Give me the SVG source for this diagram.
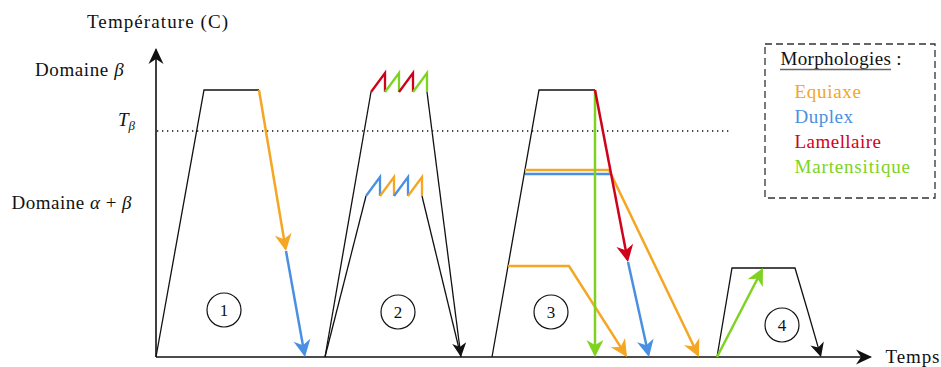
<svg xmlns="http://www.w3.org/2000/svg" width="941" height="367" viewBox="0 0 941 367">
<defs>
<marker id="hK" markerUnits="userSpaceOnUse" markerWidth="20" markerHeight="20" viewBox="-18 -10 20 20" refX="-1.5" refY="0" orient="auto"><path d="M0,0 L-14,-7 L-10,0 L-14,7 Z" fill="#111"/></marker>
<marker id="hA" markerUnits="userSpaceOnUse" markerWidth="22" markerHeight="22" viewBox="-20 -11 22 22" refX="-1.5" refY="0" orient="auto"><path d="M0,0 L-16,-7.5 L-11,0 L-16,7.5 Z" fill="#111"/></marker>
<marker id="hO" markerUnits="userSpaceOnUse" markerWidth="22" markerHeight="22" viewBox="-20 -11 22 22" refX="-2.5" refY="0" orient="auto"><path d="M0,0 L-17,-8.5 L-12,0 L-17,8.5 Z" fill="#F5A623"/></marker>
<marker id="hB" markerUnits="userSpaceOnUse" markerWidth="22" markerHeight="22" viewBox="-20 -11 22 22" refX="-2.5" refY="0" orient="auto"><path d="M0,0 L-17,-8.5 L-12,0 L-17,8.5 Z" fill="#4A90E2"/></marker>
<marker id="hR" markerUnits="userSpaceOnUse" markerWidth="22" markerHeight="22" viewBox="-20 -11 22 22" refX="-2.5" refY="0" orient="auto"><path d="M0,0 L-17,-8.5 L-12,0 L-17,8.5 Z" fill="#D0021B"/></marker>
<marker id="hG" markerUnits="userSpaceOnUse" markerWidth="22" markerHeight="22" viewBox="-20 -11 22 22" refX="-2.5" refY="0" orient="auto"><path d="M0,0 L-17,-8.5 L-12,0 L-17,8.5 Z" fill="#7ED321"/></marker>
</defs>

<g font-family="Liberation Serif" font-size="19" fill="#111">
<g id="axes">
<g fill="none" stroke="#111" stroke-width="1.6">
<line x1="156" y1="357" x2="156" y2="49.5" marker-end="url(#hA)"/>
<line x1="156" y1="357" x2="870.5" y2="357" marker-end="url(#hA)"/>
</g>
<line x1="157" y1="131" x2="732" y2="131" stroke="#111" stroke-width="1.3" stroke-dasharray="1.3 3.7"/>
<text x="87" y="28" textLength="141" lengthAdjust="spacing">Température (C)</text>
<text x="885.5" y="363" textLength="54" lengthAdjust="spacing">Temps</text>
<text x="35" y="76" letter-spacing="0.6">Domaine <tspan font-style="italic">β</tspan></text>
<text x="118" y="126" font-style="italic">T<tspan font-size="13" dy="4">β</tspan></text>
<text x="11.5" y="209" letter-spacing="0.5">Domaine <tspan font-style="italic">α</tspan> + <tspan font-style="italic">β</tspan></text>
</g>

<g fill="none" stroke="#111" stroke-width="1.3">
<g id="cycle1">
<polyline points="156,357 204,90 259,90"/>
<circle cx="224" cy="310" r="17" stroke-width="1.2"/>
<text x="224" y="316" font-size="17" text-anchor="middle" fill="#111" stroke="none">1</text>
</g>
<g id="cycle2">
<polyline points="325,357 371,92"/>
<polyline points="325,357 366,196"/>
<polyline points="422,196 461,357"/>
<g stroke-width="2.3">
<path stroke="#D0021B" d="M371,92 L385,73 L385,92"/>
<path stroke="#7ED321" d="M385,92 L399,73 L399,92"/>
<path stroke="#D0021B" d="M399,92 L413,73 L413,92"/>
<path stroke="#7ED321" d="M413,92 L427,73 L427,92"/>
<path stroke="#4A90E2" d="M366,196 L380,177 L380,196"/>
<path stroke="#F5A623" d="M380,196 L394,177 L394,196"/>
<path stroke="#4A90E2" d="M394,196 L408,177 L408,196"/>
<path stroke="#F5A623" d="M408,196 L422,177 L422,196"/>
</g>
<circle cx="398" cy="312" r="17" stroke-width="1.2"/>
<text x="398" y="318" font-size="17" text-anchor="middle" fill="#111" stroke="none">2</text>
</g>
<g id="cycle3">
<polyline points="492,357 539,90 595,90"/>
<circle cx="551" cy="312" r="17" stroke-width="1.2"/>
<text x="551" y="318" font-size="17" text-anchor="middle" fill="#111" stroke="none">3</text>
</g>
<g id="cycle4">
<polyline points="717,357 732,268 795,268 808,312"/>
<circle cx="782" cy="325" r="17" stroke-width="1.2"/>
<text x="782" y="331" font-size="17" text-anchor="middle" fill="#111" stroke="none">4</text>
</g>
</g>

<g id="connectors" fill="none" stroke-width="2.5">
<line stroke="#F5A623" x1="259" y1="90" x2="285.59" y2="248.53" marker-end="url(#hO)"/>
<line stroke="#4A90E2" x1="286" y1="251" x2="304.56" y2="354.54" marker-end="url(#hB)"/>
<line stroke="#111" stroke-width="1.3" x1="427" y1="92" x2="460.81" y2="355.51" marker-end="url(#hK)"/>
<line stroke="#4A90E2" x1="525" y1="174" x2="611" y2="174"/>
<polyline stroke="#F5A623" points="525,170 609,170 697.92,354.75" marker-end="url(#hO)"/>
<polyline stroke="#F5A623" points="508,266 569,266 625.66,354.89" marker-end="url(#hO)"/>
<line stroke="#7ED321" x1="595" y1="90" x2="595" y2="354.5" marker-end="url(#hG)"/>
<line stroke="#D0021B" x1="595" y1="90" x2="627.53" y2="259.54" marker-end="url(#hR)"/>
<line stroke="#4A90E2" x1="628" y1="262" x2="648.46" y2="354.56" marker-end="url(#hB)"/>
<line stroke="#111" stroke-width="1.3" x1="808" y1="312" x2="820.58" y2="355.56" marker-end="url(#hK)"/>
<line stroke="#7ED321" x1="717" y1="357" x2="761.85" y2="270.22" marker-end="url(#hG)"/>
</g>

<g id="legend">
<rect x="765" y="44" width="170" height="154" fill="none" stroke="#333" stroke-width="1.3" stroke-dasharray="7 4"/>
<text x="780.5" y="65" textLength="121" lengthAdjust="spacing">Morphologies :</text>
<line x1="780" y1="69.5" x2="891" y2="69.5" stroke="#666" stroke-width="1.4"/>
<text x="794.5" y="97.5" textLength="66.5" lengthAdjust="spacing" fill="#F5A623">Equiaxe</text>
<text x="794.5" y="122.5" textLength="58.5" lengthAdjust="spacing" fill="#4A90E2">Duplex</text>
<text x="794.5" y="148" textLength="86.5" lengthAdjust="spacing" fill="#D0021B">Lamellaire</text>
<text x="794.5" y="173" textLength="115.5" lengthAdjust="spacing" fill="#7ED321">Martensitique</text>
</g>
</g>
</svg>
